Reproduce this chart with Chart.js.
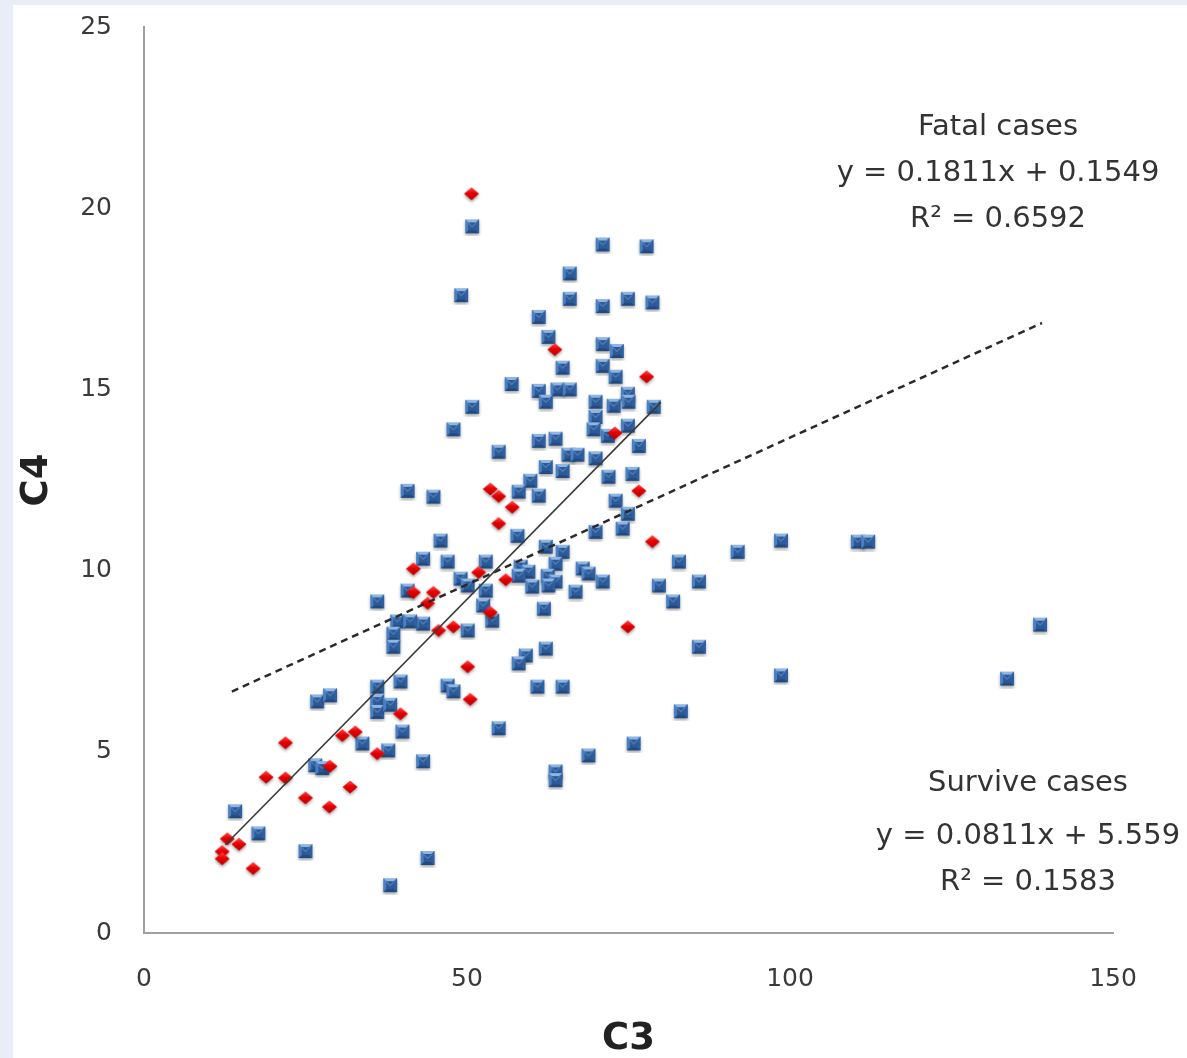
<!DOCTYPE html>
<html>
<head>
<meta charset="utf-8">
<script src="https://cdn.jsdelivr.net/npm/chart.js@4.4.1/dist/chart.umd.min.js"></script>
<style>
html,body{margin:0;padding:0;background:#e9edf7;overflow:hidden}
#wrap{position:absolute;left:0;top:0;width:1187px;height:1058px}
</style>
</head>
<body>
<div id="wrap"><canvas id="c"></canvas></div>
<script>
// ---- data ----
const xTicks = [0, 50, 100, 150];
const yTicks = [0, 5, 10, 15, 20, 25];

const surviveC3 = [50.8,71.0,77.8,65.9,49.1,65.9,71.0,74.9,78.7,61.1,62.6,71.0,73.2,64.8,71.0,73.0,56.9,61.1,64.0,65.9,62.2,74.9,69.9,72.7,75.0,78.9,50.8,47.9,69.9,69.6,71.8,74.9,61.1,63.7,54.9,76.6,65.7,67.1,69.9,
  62.2,64.8,71.9,75.6,59.8,58.0,61.1,44.8,73.0,74.9,74.1,69.9,57.8,45.9,62.2,64.8,52.9,47.0,43.2,82.8,63.7,49.0,50.1,52.9,58.3,59.5,58.0,60.1,62.5,63.7,62.6,67.9,68.8,71.0,66.8,79.7,85.9,81.9,52.5,53.9,61.9,50.1,43.2,85.9,62.2,59.1,58.0,47.0,47.9,60.9,64.8,83.1,
  54.9,43.2,75.8,68.8,63.7,63.7,43.9,
  91.9,98.6,110.5,112.1,98.6,138.7,133.6,
  40.8,36.1,40.8,39.2,41.2,38.6,38.6,36.1,39.7,26.8,28.8,36.1,
  36.1,38.1,40.0,26.5,27.6,33.8,37.8,14.1,17.7,25.0,38.1];
const surviveC4 = [19.5,19.0,18.95,18.2,17.6,17.5,17.3,17.5,17.4,17.0,16.45,16.25,16.06,15.6,15.65,15.35,15.15,14.96,15.0,15.0,14.66,14.88,14.66,14.55,14.66,14.52,14.52,13.9,14.24,13.9,13.72,14.0,13.58,13.64,13.28,13.44,13.2,13.2,13.1,
  12.86,12.75,12.59,12.67,12.48,12.18,12.07,12.04,11.93,11.57,11.16,11.07,10.96,10.83,10.66,10.52,10.25,10.25,10.33,10.25,10.19,9.78,9.59,9.45,10.11,9.97,9.86,9.56,9.86,9.70,9.59,10.06,9.92,9.70,9.42,9.59,9.70,9.15,9.04,8.62,8.95,8.35,8.54,7.9,7.85,7.66,7.44,6.83,6.67,6.80,6.80,6.12,
  5.65,4.74,5.23,4.90,4.46,4.22,2.07,
  10.52,10.83,10.8,10.8,7.11,8.51,7.02,
  12.2,9.15,9.45,8.6,8.6,8.26,7.9,6.8,6.94,6.39,6.56,6.4,
  6.1,6.3,5.56,4.63,4.55,5.23,5.04,3.36,2.75,2.26,1.32];

const fatalC3 = [50.7,63.6,77.8,72.9,53.6,54.9,57.0,54.9,76.6,78.7,51.8,56.0,53.6,74.9,50.1,50.5,41.7,41.7,44.8,43.9,45.6,47.9,39.7,30.7,32.7,36.1,21.9,28.8,18.9,21.9,31.9,25.0,28.7,12.9,14.7,12.1,12.1,16.9];
const fatalC4 = [20.4,16.1,15.35,13.8,12.25,12.05,11.75,11.3,12.2,10.8,9.95,9.75,8.85,8.45,7.35,6.45,10.05,9.4,9.4,9.1,8.35,8.45,6.05,5.45,5.55,4.95,5.25,4.6,4.3,4.28,4.03,3.73,3.48,2.6,2.45,2.25,2.05,1.78];

// trendlines: [slope, intercept] and x-extent
const fatalFit = [0.1811, 0.1549];
const fatalFitX = [12.6, 80.0];
const surviveFit = [0.0811, 5.559];
const surviveFitX = [13.6, 139.0];

const fatalText = ['Fatal cases', 'y = 0.1811x + 0.1549', 'R\u00B2 = 0.6592'];
const surviveText = ['Survive cases', 'y = 0.0811x + 5.559', 'R\u00B2 = 0.1583'];

// ---- marker sprites ----
function blueSprite() {
  const c = document.createElement('canvas'); c.width = 20; c.height = 20;
  const g = c.getContext('2d');
  g.shadowColor = 'rgba(0,0,0,0.35)'; g.shadowBlur = 3; g.shadowOffsetY = 2;
  g.fillStyle = '#3d72b4'; g.fillRect(3, 3, 14, 14);
  g.shadowColor = 'transparent';
  const poly = (pts, col) => { g.beginPath(); g.moveTo(pts[0][0], pts[0][1]); for (let i = 1; i < pts.length; i++) g.lineTo(pts[i][0], pts[i][1]); g.closePath(); g.fillStyle = col; g.fill(); };
  poly([[3,3],[17,3],[14,6],[6,6]], '#8fb5e3');
  poly([[3,17],[17,17],[14,14],[6,14]], '#234a80');
  poly([[3,3],[6,6],[6,14],[3,17]], '#4a80c2');
  poly([[17,3],[14,6],[14,14],[17,17]], '#2f5f9e');
  g.fillStyle = '#2b5a97'; g.fillRect(6, 6, 8, 8);
  g.strokeStyle = '#6f9cd3'; g.lineWidth = 1;
  g.beginPath(); g.moveTo(6, 6.5); g.lineTo(10, 10.5); g.lineTo(14, 6.5); g.stroke();
  return c;
}
function redSprite() {
  const c = document.createElement('canvas'); c.width = 20; c.height = 20;
  const g = c.getContext('2d');
  g.shadowColor = 'rgba(0,0,0,0.35)'; g.shadowBlur = 3; g.shadowOffsetY = 2;
  g.beginPath(); g.moveTo(10, 3.5); g.lineTo(17.5, 10); g.lineTo(10, 16.5); g.lineTo(2.5, 10); g.closePath();
  const gr = g.createLinearGradient(0, 3.5, 0, 16.5);
  gr.addColorStop(0, '#ff4a4a'); gr.addColorStop(0.45, '#e80000'); gr.addColorStop(1, '#b80000');
  g.fillStyle = gr; g.fill();
  return c;
}
const blueImg = blueSprite();
const redImg = redSprite();

const surviveData = surviveC3.map((x, i) => ({x, y: surviveC4[i]}));
const fatalData = fatalC3.map((x, i) => ({x, y: fatalC4[i]}));
const fitLine = (fit, xr) => xr.map(x => ({x, y: fit[0] * x + fit[1]}));

const TICK_FONT = {family: 'DejaVu Sans', size: 25};
const TITLE_FONT = {family: 'DejaVu Sans', size: 37, weight: 'bold', lineHeight: 1};

const bgPlugin = {
  id: 'bg',
  beforeDraw(chart) {
    const ctx = chart.ctx;
    ctx.save();
    ctx.fillStyle = '#e9edf7'; ctx.fillRect(0, 0, chart.width, chart.height);
    ctx.fillStyle = '#ffffff'; ctx.fillRect(13, 5, chart.width - 13, chart.height - 5);
    ctx.restore();
  }
};
const textPlugin = {
  id: 'eqText',
  afterDraw(chart) {
    const ctx = chart.ctx;
    ctx.save();
    ctx.font = '29px "DejaVu Sans"';
    ctx.fillStyle = '#333333';
    ctx.textAlign = 'center'; ctx.textBaseline = 'middle';
    const fy = [127, 173, 219];
    fatalText.forEach((t, i) => ctx.fillText(t, 998, fy[i]));
    const sy = [783, 836, 882];
    surviveText.forEach((t, i) => ctx.fillText(t, 1028, sy[i]));
    ctx.restore();
  }
};

new Chart(document.getElementById('c'), {
  type: 'scatter',
  data: {
    datasets: [
      {label: 'fatalFit', type: 'line', data: fitLine(fatalFit, fatalFitX), borderColor: '#3a3a3a', borderWidth: 1.6, pointRadius: 0, fill: false, order: 1},
      {label: 'surviveFit', type: 'line', data: fitLine(surviveFit, surviveFitX), borderColor: '#2a2a2a', borderWidth: 2.5, borderDash: [7, 5], pointRadius: 0, fill: false, order: 2},
      {label: 'Fatal cases', data: fatalData, pointStyle: redImg, pointRadius: 8, order: 3},
      {label: 'Survive cases', data: surviveData, pointStyle: blueImg, pointRadius: 8, order: 4}
    ]
  },
  options: {
    responsive: true,
    maintainAspectRatio: false,
    animation: false,
    events: [],
    layout: {padding: {left: 0, right: 74, top: 27, bottom: 0}},
    plugins: {legend: {display: false}, tooltip: {enabled: false}},
    scales: {
      x: {
        type: 'linear', min: 0, max: 150,
        afterBuildTicks(s) { s.ticks = xTicks.map(v => ({value: v})); },
        afterFit(s) { s.height = 125; s.paddingLeft = 0; s.paddingRight = 0; },
        grid: {display: false, drawTicks: false},
        border: {display: true, color: '#a0a0a0', width: 2},
        ticks: {font: TICK_FONT, color: '#3a3a3a', padding: 31, maxRotation: 0},
        title: {display: true, text: 'C3', font: TITLE_FONT, color: '#222', padding: {top: 0, bottom: 0}}
      },
      y: {
        type: 'linear', min: 0, max: 25,
        afterBuildTicks(s) { s.ticks = yTicks.map(v => ({value: v})); },
        afterFit(s) { s.width = 144; s.paddingTop = 0; s.paddingBottom = 0; },
        grid: {display: false, drawTicks: false},
        border: {display: true, color: '#a0a0a0', width: 2},
        ticks: {font: TICK_FONT, color: '#3a3a3a', padding: 32},
        title: {display: true, text: 'C4', font: TITLE_FONT, color: '#222', padding: {top: 19, bottom: 0}}
      }
    }
  },
  plugins: [bgPlugin, textPlugin]
});
</script>
</body>
</html>
